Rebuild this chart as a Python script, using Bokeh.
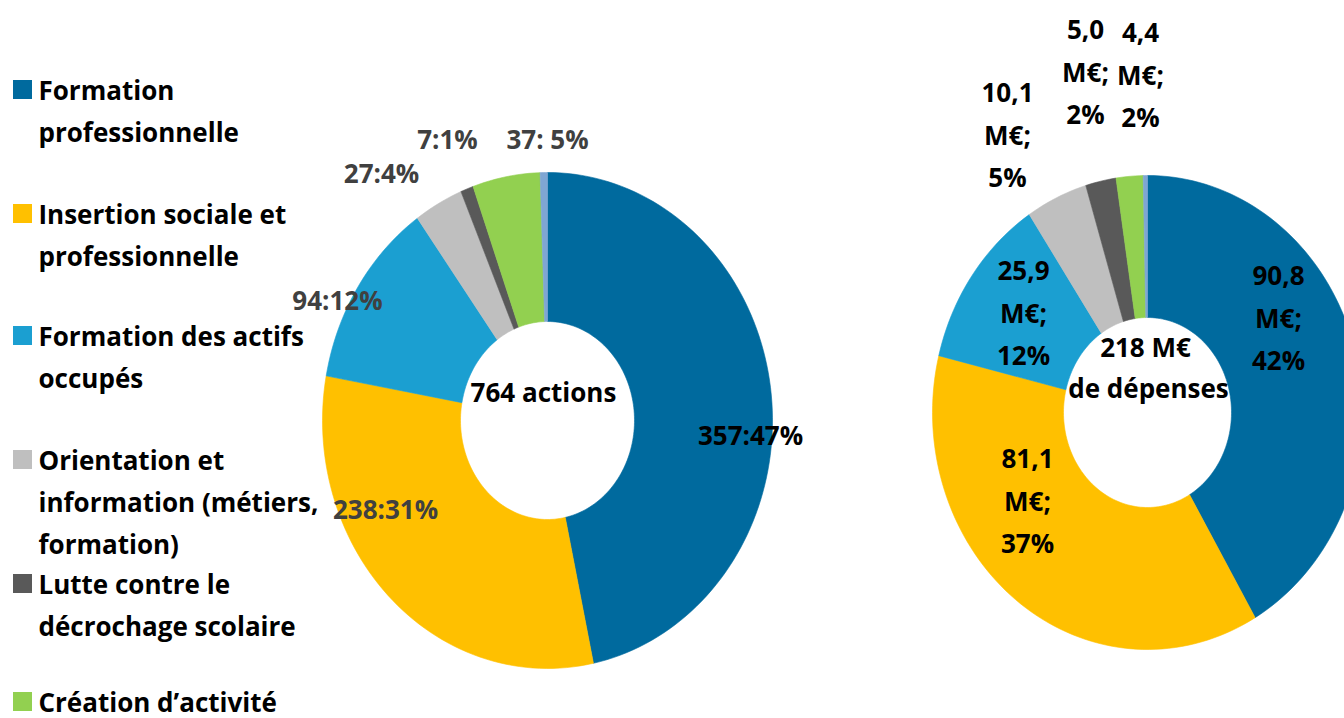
import numpy as np
from bokeh.plotting import figure
from bokeh.models import Range1d, ColumnDataSource
from bokeh.embed import file_html
from bokeh.resources import INLINE
from bokeh.core.properties import value

# ---------------- data ----------------
categories = [
    "Formation professionnelle",
    "Insertion sociale et professionnelle",
    "Formation des actifs occupés",
    "Orientation et information (métiers, formation)",
    "Lutte contre le décrochage scolaire",
    "Création d’activité",
    "Autre",
]
legend_lines = [
    ["Formation", "professionnelle"],
    ["Insertion sociale et", "professionnelle"],
    ["Formation des actifs", "occupés"],
    ["Orientation et", "information (métiers,", "formation)"],
    ["Lutte contre le", "décrochage scolaire"],
    ["Création d’activité"],
]
colors = ["#006A9E", "#FFC000", "#1B9FD1", "#BFBFBF", "#595959", "#92D050", "#7FA6D3"]

actions = [357, 238, 94, 27, 7, 37, 4]              # nombre d'actions
depenses = [90.8, 81.1, 25.9, 10.1, 5.0, 4.4, 0.7]  # M€
total_actions = 764
total_depenses = 218
action_sep = [":", ":", ":", ":", ":", ": "]
center_left = ["764 actions"]
center_right = ["218 M€", "de dépenses"]

# ---------------- layout (image pixel coords) ----------------
W, H = 1344, 718
FONT = value("Open Sans")
FS = "26px"
LINE = 42

p = figure(width=W, height=H, output_backend="svg", toolbar_location=None,
           x_range=Range1d(0, W), y_range=Range1d(H, 0),
           min_border=0, outline_line_color=None, background_fill_color="white")
p.axis.visible = False
p.grid.visible = False


def donut(vals, cx, cy, rx, ry, irx, iry):
    tot = float(sum(vals))
    xs, ys = [], []
    a0 = 0.0
    for v in vals:
        a1 = a0 + v / tot * 2 * np.pi
        t = np.linspace(a0, a1, max(4, int(200 * (a1 - a0) / (2 * np.pi)) + 4))
        ox = cx + rx * np.sin(t)
        oy = cy - ry * np.cos(t)
        ix = cx + irx * np.sin(t[::-1])
        iy = cy - iry * np.cos(t[::-1])
        xs.append(list(np.concatenate([ox, ix])))
        ys.append(list(np.concatenate([oy, iy])))
        a0 = a1
    src = ColumnDataSource(dict(xs=xs, ys=ys, color=colors[:len(vals)]))
    p.patches("xs", "ys", source=src, fill_color="color", line_color="color", line_width=0.6)


donut(actions, 547, 420, 225, 248, 87, 99)
donut(depenses, 1147, 412, 215, 237, 84, 95)

# ---------------- legend ----------------
leg_y = [89, 213, 335, 459, 583, 701]
p.scatter(x=[22] * len(leg_y), y=leg_y, marker="square", size=19,
          fill_color=colors[:6], line_color=None)
lx, ly, lt = [], [], []
for y0, lines in zip(leg_y, legend_lines):
    for k, s in enumerate(lines):
        lx.append(38)
        ly.append(y0 + k * LINE)
        lt.append(s)
p.text(x=lx, y=ly, text=lt, text_font=FONT, text_font_size=FS, text_font_style="bold",
       text_align="left", text_baseline="middle", text_color="#000000")

# ---------------- left labels ----------------
left_lab = [f"{v}{sep}{round(v / total_actions * 100)}%" for v, sep in zip(actions[:6], action_sep)]
left_pos = [(750, 434), (385, 508), (337, 299), (381, 172), (447, 138), (547, 138)]
left_col = ["#000000", "#404040", "#404040", "#404040", "#404040", "#404040"]
p.text(x=[q[0] for q in left_pos], y=[q[1] for q in left_pos], text=left_lab,
       text_font=FONT, text_font_size=FS, text_font_style="bold",
       text_align="center", text_baseline="middle", text_color=left_col)
p.text(x=[543], y=[391], text=center_left, text_font=FONT, text_font_size=FS,
       text_font_style="bold", text_align="center", text_baseline="middle", text_color="#000000")

# ---------------- right labels ----------------
def fr(v):
    return f"{v:.1f}".replace(".", ",")

right_pos = [(1278, 275), (1027, 458), (1023, 270), (1007, 92), (1085, 29), (1140, 32)]
rx_, ry_, rt_ = [], [], []
for v, (x0, y0) in zip(depenses[:6], right_pos):
    for k, s in enumerate([fr(v), "M€;", f"{round(v / total_depenses * 100)}%"]):
        rx_.append(x0)
        ry_.append(y0 + k * LINE)
        rt_.append(s)
p.text(x=rx_, y=ry_, text=rt_, text_font=FONT, text_font_size=FS, text_font_style="bold",
       text_align="center", text_baseline="middle", text_color="#000000")
p.text(x=[1145, 1148], y=[346, 387], text=center_right, text_font=FONT, text_font_size=FS,
       text_font_style="bold", text_align="center", text_baseline="middle", text_color="#000000")

open("out.html", "w").write(file_html(p, INLINE))
